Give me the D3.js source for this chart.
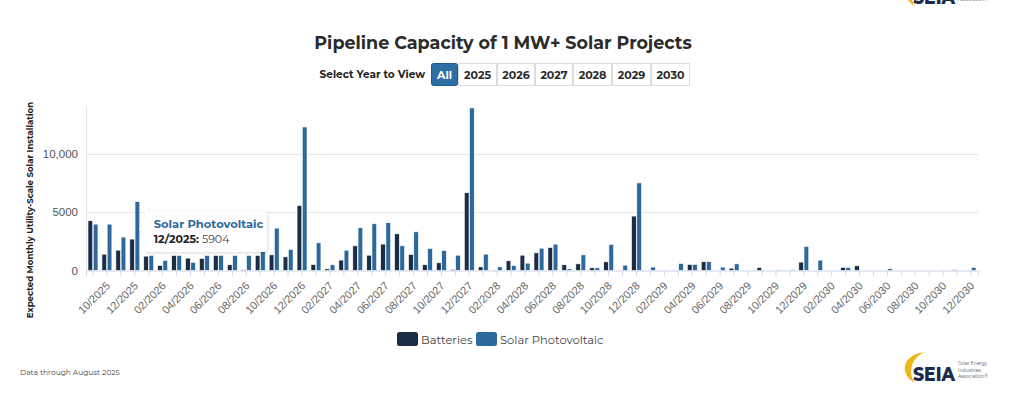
<!DOCTYPE html>
<html>
<head>
<meta charset="utf-8">
<script src="https://cdn.jsdelivr.net/npm/d3@7"></script>
<style>
  html, body { margin: 0; padding: 0; background: #fff; }
  svg { display: block; font-family: "Montserrat", "Inter", "DejaVu Sans", sans-serif; }
</style>
</head>
<body>
<svg id="chart" width="1024" height="396"></svg>
<script>
const months = ["09/2025","10/2025","11/2025","12/2025",
  "01/2026","02/2026","03/2026","04/2026","05/2026","06/2026","07/2026","08/2026","09/2026","10/2026","11/2026","12/2026",
  "01/2027","02/2027","03/2027","04/2027","05/2027","06/2027","07/2027","08/2027","09/2027","10/2027","11/2027","12/2027",
  "01/2028","02/2028","03/2028","04/2028","05/2028","06/2028","07/2028","08/2028","09/2028","10/2028","11/2028","12/2028",
  "01/2029","02/2029","03/2029","04/2029","05/2029","06/2029","07/2029","08/2029","09/2029","10/2029","11/2029","12/2029",
  "01/2030","02/2030","03/2030","04/2030","05/2030","06/2030","07/2030","08/2030","09/2030","10/2030","11/2030","12/2030"];

const batteries = [4260,1400,1740,2690,
  1230,430,1290,1060,1030,1290,490,60,1290,1340,1170,5570,
  510,140,890,2110,1310,2260,3140,1370,490,660,90,6660,
  310,30,830,1310,1510,1970,490,570,230,740,0,4660,
  0,0,30,520,750,0,200,0,260,0,0,720,
  0,0,260,400,0,0,0,0,0,0,60,0];

const solarPV = [3970,3970,2860,5904,
  1290,860,1290,690,1290,1290,1290,1290,2970,3630,1800,12290,
  2370,490,1740,3660,4000,4090,2110,3310,1890,1710,1310,13920,
  1400,310,430,630,1910,2260,140,1340,230,2230,460,7500,
  290,0,600,520,750,290,570,0,0,50,80,2070,
  890,0,260,0,0,150,0,0,0,0,0,260];

const seriesNames = ["Batteries", "Solar Photovoltaic"];
const seriesColors = ["#1b2c45", "#2c689c"];
const yTicks = [0, 5000, 10000];
const yearButtons = ["All", "2025", "2026", "2027", "2028", "2029", "2030"];
const tooltipMonth = "12/2025";

const svg = d3.select("#chart");

// Title
svg.append("text").attr("x", 503).attr("y", 49).attr("text-anchor", "middle")
  .attr("font-size", 17.5).attr("font-weight", 700).attr("fill", "#2b2b2b")
  .text("Pipeline Capacity of 1 MW+ Solar Projects");

// Year selector
svg.append("text").attr("x", 425).attr("y", 78).attr("text-anchor", "end")
  .attr("font-size", 10.5).attr("font-weight", 700).attr("fill", "#222")
  .text("Select Year to View");

const btnEdges = [431, 458, 497, 535, 573, 612, 651, 690];
const btnScale = d3.scaleOrdinal().domain(yearButtons).range(d3.range(yearButtons.length));
yearButtons.forEach(b => {
  const i = btnScale(b);
  const x0 = btnEdges[i], x1 = btnEdges[i + 1];
  const active = i === 0;
  svg.append("rect").attr("x", x0 + 0.5).attr("y", 63.5).attr("width", x1 - x0 - 1).attr("height", 22)
    .attr("rx", active ? 2 : 0)
    .attr("fill", active ? "#2e6ea3" : "#fff")
    .attr("stroke", active ? "#1f5a8c" : "#dcdcdc").attr("stroke-width", 1);
  svg.append("text").attr("x", (x0 + x1) / 2).attr("y", 78.5).attr("text-anchor", "middle")
    .attr("font-size", 11).attr("font-weight", 700).attr("fill", active ? "#fff" : "#2b2b2b")
    .text(b);
});

// Scales
const plotLeft = 86, plotRight = 978, plotTop = 107, plotBottom = 270.5;
const x0 = d3.scaleBand().domain(months).range([plotLeft, plotRight]).paddingInner(0).paddingOuter(0);
const x1 = d3.scaleBand().domain(seriesNames).range([2, x0.bandwidth() - 2]).paddingInner(0.1);
const y = d3.scaleLinear().domain([0, 14000]).range([plotBottom, plotTop]);

// Gridlines
svg.append("g").selectAll("line").data(yTicks.filter(d => d > 0)).join("line")
  .attr("x1", plotLeft).attr("x2", plotRight)
  .attr("y1", d => Math.round(y(d)) + 0.5).attr("y2", d => Math.round(y(d)) + 0.5)
  .attr("stroke", "#e6e6e6").attr("stroke-width", 1);

// Y axis
const yAxis = d3.axisLeft(y).tickValues(yTicks).tickSize(0).tickPadding(8)
  .tickFormat(d => d >= 10000 ? d3.format(",")(d) : String(d));
const yg = svg.append("g").attr("transform", `translate(${plotLeft},0)`).call(yAxis);
yg.select(".domain").attr("stroke", "#e3e3e3");
yg.selectAll("text").attr("font-size", 11.5).attr("fill", "#555").attr("font-family", null);

// Y axis title
svg.append("text").attr("transform", "translate(33,210) rotate(-90)").attr("text-anchor", "middle")
  .attr("font-size", 8.6).attr("font-weight", 700).attr("fill", "#222")
  .text("Expected Monthly Utility-Scale Solar Installation");

// X axis
const xAxis = d3.axisBottom(x0).tickSize(5).tickPadding(4)
  .tickFormat((d, i) => i % 2 === 1 ? d : "");
const xg = svg.append("g").attr("transform", `translate(0,${plotBottom})`).call(xAxis);
xg.select(".domain").attr("stroke", "#ccd6eb");
xg.selectAll(".tick line").attr("stroke", "#ccd6eb");
xg.selectAll("text").attr("font-size", 11).attr("fill", "#666").attr("font-family", null)
  .attr("text-anchor", "end").attr("dy", null)
  .attr("transform", "translate(4,16) rotate(-45)").attr("y", 0).attr("x", 0);

// Bars
const rows = months.map((m, i) => ({ month: m, values: [batteries[i], solarPV[i]] }));
const groups = svg.append("g").selectAll("g").data(rows).join("g")
  .attr("transform", d => `translate(${x0(d.month)},0)`);
groups.selectAll("rect").data(d => d.values.map((v, k) => ({ key: seriesNames[k], k, v })).filter(e => e.v > 0))
  .join("rect")
  .attr("x", e => x1(e.key))
  .attr("width", x1.bandwidth())
  .attr("y", e => y(e.v))
  .attr("height", e => plotBottom - y(e.v))
  .attr("fill", e => seriesColors[e.k])
  .attr("stroke", "#fff").attr("stroke-width", 0.6);

// Tooltip
const ti = months.indexOf(tooltipMonth);
const tipX = x0(tooltipMonth) + x1("Solar Photovoltaic") + x1.bandwidth() + 2;
const tipY = 232;
const defs = svg.append("defs");
const f = defs.append("filter").attr("id", "shadow").attr("x", "-20%").attr("y", "-30%").attr("width", "140%").attr("height", "160%");
f.append("feDropShadow").attr("dx", 1).attr("dy", 1).attr("stdDeviation", 1.5).attr("flood-color", "#000").attr("flood-opacity", 0.15);
const tip = svg.append("g");
const bx = tipX + 3, bw = 122, by = 211, bh = 41;
tip.append("path")
  .attr("d", `M${bx+3},${by} h${bw-6} q3,0 3,3 v${bh-6} q0,3 -3,3 h${-(bw-6)} q-3,0 -3,-3 v${-(by+bh-tipY-6)} l-6,-6 l6,-6 v${-(tipY-by-9)} q0,-3 3,-3 Z`)
  .attr("fill", "#fff").attr("filter", "url(#shadow)");
tip.append("text").attr("x", bx + 9).attr("y", by + 17).attr("font-size", 11.5).attr("font-weight", 700)
  .attr("fill", "#2c689c").text(seriesNames[1]);
const t2 = tip.append("text").attr("x", bx + 9).attr("y", by + 32).attr("font-size", 11).attr("fill", "#444");
t2.append("tspan").attr("font-weight", 700).attr("fill", "#222").text(tooltipMonth + ": ");
t2.append("tspan").text(String(solarPV[ti]));

// Legend
const legend = svg.append("g");
const legX = [397, 476];
seriesNames.forEach((n, k) => {
  legend.append("rect").attr("x", legX[k]).attr("y", 332).attr("width", 21).attr("height", 14).attr("rx", 2.5)
    .attr("fill", seriesColors[k]);
  legend.append("text").attr("x", legX[k] + 24).attr("y", 343.5).attr("font-size", 11.5).attr("fill", "#444")
    .text(n);
});

// Footer
svg.append("text").attr("x", 20).attr("y", 375).attr("font-size", 7.5).attr("fill", "#444")
  .text("Data through August 2025");

// SEIA logos
function drawLogo(g) {
  g.append("path").attr("d", "M915,383 C900,375 900,355 925,352 C912,357 907,372 915,383 Z").attr("fill", "#f2b51c");
  g.append("text").attr("x", 913).attr("y", 381).attr("font-size", 20).attr("font-weight", 800)
    .attr("fill", "#1b2c4f").attr("textLength", 42).attr("lengthAdjust", "spacingAndGlyphs").text("SEIA");
  const cap = g.append("text").attr("x", 958).attr("y", 365).attr("font-size", 4.6).attr("fill", "#555");
  ["Solar Energy", "Industries", "Association®"].forEach((t, i) => {
    cap.append("tspan").attr("x", 958).attr("dy", i === 0 ? 0 : 6.5).text(t);
  });
}
drawLogo(svg.append("g"));
drawLogo(svg.append("g").attr("transform", "translate(0,-377)"));
</script>
</body>
</html>
